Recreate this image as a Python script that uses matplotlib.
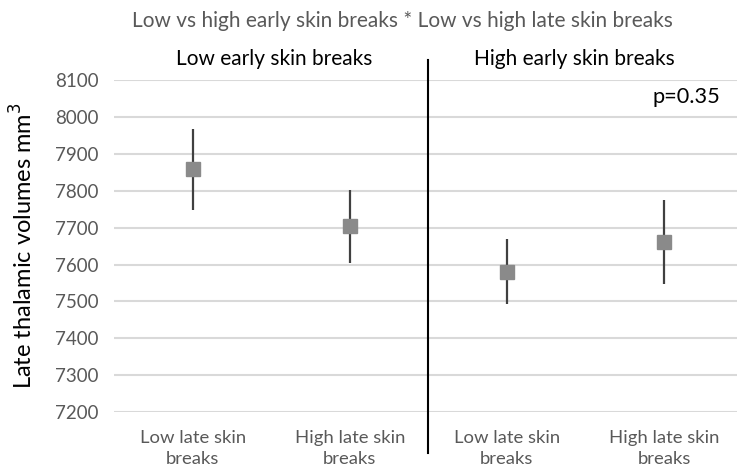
import numpy as np
import matplotlib
matplotlib.use('Agg')
import matplotlib.pyplot as plt

# Datos
categorias = ['Low late skin\nbreaks', 'High late skin\nbreaks', 'Low late skin\nbreaks', 'High late skin\nbreaks']
medias = [7860, 7705, 7581, 7662]
err_sup = [108, 98, 87, 112]
err_inf = [112, 100, 89, 114]
grupos = ['Low early skin breaks', 'High early skin breaks']
y_ticks = [7200, 7300, 7400, 7500, 7600, 7700, 7800, 7900, 8000, 8100]

plt.rcParams['font.family'] = ['Lato', 'DejaVu Sans']

fig = plt.figure(figsize=(7.37, 4.71), dpi=100)
ax = fig.add_axes([0.155, 0.125, 0.845, 0.705])

x = np.arange(len(categorias))
ax.errorbar(x, medias, yerr=[err_inf, err_sup], fmt='none', ecolor='#404040',
            elinewidth=1.6, capsize=0, zorder=3)
ax.plot(x, medias, 's', color='#8a8a8a', markersize=9.8, zorder=4)

ax.set_xlim(-0.5, 3.465)
ax.set_ylim(7200, 8100)
ax.set_yticks(y_ticks)
ax.set_xticks(x)
ax.set_xticklabels(categorias, fontsize=13.3, color='#595959', linespacing=1.35)
ax.tick_params(axis='y', labelsize=13.5, colors='#595959', length=0, pad=11.5)
ax.tick_params(axis='x', length=0, pad=13)
ax.yaxis.grid(True, color='#d9d9d9', linewidth=1.5)
ax.set_axisbelow(True)
for s in ax.spines.values():
    s.set_visible(False)

# Línea divisoria entre grupos
ax.plot([1.5, 1.5], [7090, 8155], color='black', linewidth=1.5, clip_on=False)

ax.set_ylabel('Late thalamic volumes mm$^3$', fontsize=17, color='black')
ax.yaxis.set_label_coords(-0.125, 0.5)

ax.text(0.516, 8141, grupos[0], ha='center', va='baseline', fontsize=15)
ax.text(2.43, 8141, grupos[1], ha='center', va='baseline', fontsize=15)
ax.text(3.36, 8054, 'p=0.35', ha='right', va='center', fontsize=15.7)

fig.text(402 / 737, 1 - 27 / 471, 'Low vs high early skin breaks * Low vs high late skin breaks',
         ha='center', va='baseline', fontsize=15, color='#595959')

fig.savefig('out.png', dpi=100, facecolor='white')
